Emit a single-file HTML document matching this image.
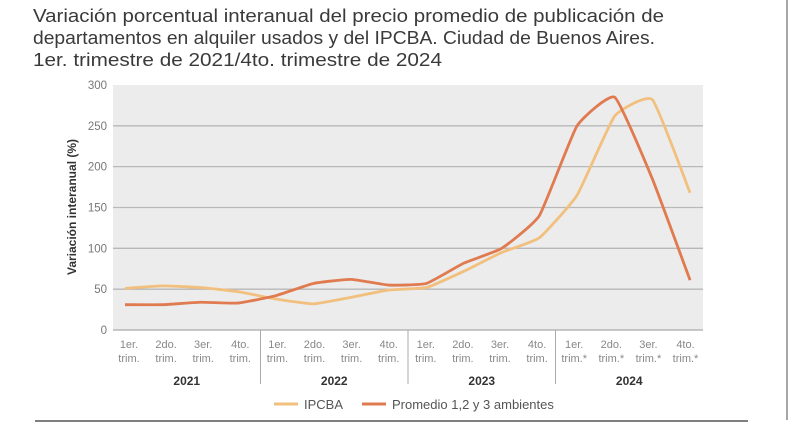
<!DOCTYPE html>
<html><head><meta charset="utf-8"><style>
body{margin:0;background:#fff;width:800px;height:429px;overflow:hidden;font-family:"Liberation Sans",sans-serif}
</style></head><body>
<svg width="800" height="429" viewBox="0 0 800 429" xmlns="http://www.w3.org/2000/svg">
<g font-size="18" fill="#3a3a3a">
<text x="33" y="22" textLength="631" lengthAdjust="spacingAndGlyphs">Variación porcentual interanual del precio promedio de publicación de</text>
<text x="33" y="44" textLength="622" lengthAdjust="spacingAndGlyphs">departamentos en alquiler usados y del IPCBA. Ciudad de Buenos Aires.</text>
<text x="33" y="66" textLength="409" lengthAdjust="spacingAndGlyphs">1er. trimestre de 2021/4to. trimestre de 2024</text>
</g>
<line x1="787" y1="0" x2="787" y2="420" stroke="#888" stroke-width="1.5"/>
<rect x="113" y="85" width="590" height="245" fill="#ececec"/>
<g id="grid"></g>
<g id="ylab" font-size="11.5" fill="#777" text-anchor="end"></g>
<text transform="translate(76,207) rotate(-90)" text-anchor="middle" font-size="12" font-weight="bold" fill="#333">Variación interanual (%)</text>
<g id="xlab" font-size="11" fill="#888" text-anchor="middle"></g>
<g id="lines"></g>
<line x1="35" y1="421" x2="748" y2="421" stroke="#333" stroke-width="1.2"/>
<g font-size="13" fill="#555">
<g><line x1="274" y1="404" x2="298" y2="404" stroke="#f2c07e" stroke-width="3"/><text x="304" y="409">IPCBA</text></g>
<g><line x1="362" y1="404" x2="386" y2="404" stroke="#e07a4f" stroke-width="3"/><text x="392" y="409">Promedio 1,2 y 3 ambientes</text></g>
</g>
</svg>
<script>
const quarters=["1er.","2do.","3er.","4to.","1er.","2do.","3er.","4to.","1er.","2do.","3er.","4to.","1er.","2do.","3er.","4to."];
const years=["2021","2022","2023","2024"];
const yTicks=[0,50,100,150,200,250,300];
const ipcba=[51,54,52,47,38,32,40,49,52,72,95,113,165,262,282,168];
const promedio=[31,31,34,33,42,57,62,55,57,82,100,140,250,285,185,61];
const NS="http://www.w3.org/2000/svg";
function yS(v){return 330-v*0.8167;}
function xS(i){return 125+i*37.67;}
function mk(t,a,p){const e=document.createElementNS(NS,t);for(const k in a)e.setAttribute(k,a[k]);p.appendChild(e);return e;}
const grid=document.getElementById('grid'),yl=document.getElementById('ylab'),xl=document.getElementById('xlab'),ln=document.getElementById('lines');
yTicks.forEach(v=>{
 if(v>0&&v<300){const g=mk('line',{x1:113,x2:703,y1:yS(v),y2:yS(v),stroke:'#b8b8b8','stroke-width':1.3},grid);
 
 }
 const t=mk('text',{x:107,y:yS(v)+4},yl);t.textContent=v;
 
 
});
const base=mk('line',{x1:113,x2:703,y1:330,y2:330,stroke:'#aaa','stroke-width':1.3},grid);


quarters.forEach((q,i)=>{
 const x=129+i*37.1;
 const t=mk('text',{x:x,y:348},xl);t.textContent=q;
 
 
 const t2=mk('text',{x:x,y:362},xl);t2.textContent=i>=12?'trim.*':'trim.';
 
 
});
years.forEach((y,j)=>{
 const cx=113+147.5*j+73.75;
 const t=mk('text',{x:cx,y:385,'font-weight':'bold',fill:'#333','font-size':12},xl);t.textContent=y;
 
 
 if(j>0){const d=mk('line',{x1:113+147.5*j,x2:113+147.5*j,y1:330,y2:384,stroke:'#aaa'},xl);
 
 }
});
function path(vals){
 const p=vals.map((v,i)=>[xS(i),yS(v)]);
 let d='M'+p[0][0]+','+p[0][1];
 for(let i=0;i<p.length-1;i++){
  const p0=p[i-1]||p[i],p1=p[i],p2=p[i+1],p3=p[i+2]||p2,k=0.07;
  d+=' C'+(p1[0]+(p2[0]-p0[0])*k)+','+(p1[1]+(p2[1]-p0[1])*k)+' '+(p2[0]-(p3[0]-p1[0])*k)+','+(p2[1]-(p3[1]-p1[1])*k)+' '+p2[0]+','+p2[1];
 }
 return d;
}
const l1=mk('path',{d:path(ipcba),fill:'none',stroke:'#f2c07e','stroke-width':2.8,'stroke-linejoin':'round'},ln);


const l2=mk('path',{d:path(promedio),fill:'none',stroke:'#e07a4f','stroke-width':2.8,'stroke-linejoin':'round'},ln);


</script>
</body></html>
